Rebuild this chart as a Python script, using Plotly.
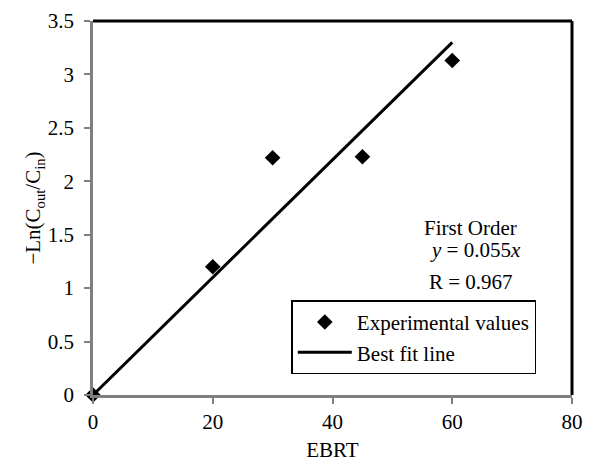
import plotly.graph_objects as go

ebrt = [0, 20, 30, 45, 60]
ln_ratio = [0, 1.2, 2.22, 2.23, 3.13]
fit_x = [0, 60]
fit_y = [0, 3.3]  # y = 0.055x

FONT = "Liberation Serif, Times New Roman, serif"
FS = 21

fig = go.Figure()
fig.add_trace(go.Scatter(x=ebrt, y=ln_ratio, mode="markers", name="Experimental values",
                         marker=dict(symbol="diamond", size=12, color="black"),
                         cliponaxis=False))
fig.add_trace(go.Scatter(x=fit_x, y=fit_y, mode="lines", name="Best fit line",
                         line=dict(color="black", width=3)))

fig.update_layout(
    width=591, height=462,
    margin=dict(l=93, r=19, t=21, b=67, autoexpand=False),
    paper_bgcolor="white", plot_bgcolor="white",
    font=dict(family=FONT, size=FS, color="black"),
    showlegend=True,
    legend=dict(x=0.414, y=0.154, xanchor="left", yanchor="middle",
                bordercolor="black", borderwidth=1.5, bgcolor="white",
                font=dict(size=FS, color="black"), tracegroupgap=0, itemwidth=54),
    xaxis=dict(range=[0, 80], dtick=20, showgrid=False, zeroline=False,
               showline=True, linecolor="#7f7f7f", linewidth=2.5, automargin=False,
               ticks="outside", ticklen=6, tickwidth=2, tickcolor="#7f7f7f",
               title=dict(text="EBRT", font=dict(size=FS, color="black"), standoff=14),
               tickfont=dict(size=FS, color="black")),
    yaxis=dict(range=[0, 3.5], dtick=0.5, showgrid=False, zeroline=False,
               showline=True, linecolor="#7f7f7f", linewidth=2.5, automargin=False,
               ticks="outside", ticklen=6, tickwidth=2, tickcolor="#7f7f7f",
               ticklabelstandoff=6,
               title=dict(text="−Ln(C<sub>out</sub>/C<sub>in</sub>)",
                          font=dict(size=FS, color="#000000"), standoff=0),
               tickfont=dict(size=FS, color="black")),
    shapes=[
        dict(type="line", xref="paper", yref="paper", x0=0, x1=1, y0=1, y1=1,
             line=dict(color="black", width=3)),
        dict(type="line", xref="paper", yref="paper", x0=1, x1=1, y0=0, y1=1,
             line=dict(color="black", width=3)),
    ],
    annotations=[
        dict(x=63.1, y=1.56, xref="x", yref="y", text="First Order", showarrow=False,
             font=dict(size=FS, color="black")),
        dict(x=63.9, y=1.36, xref="x", yref="y", text="<i>y</i> = 0.055<i>x</i>", showarrow=False,
             font=dict(size=FS, color="black")),
        dict(x=63.1, y=1.06, xref="x", yref="y", text="R = 0.967", showarrow=False,
             font=dict(size=FS, color="black")),
    ],
)

fig.write_html("out.html")
